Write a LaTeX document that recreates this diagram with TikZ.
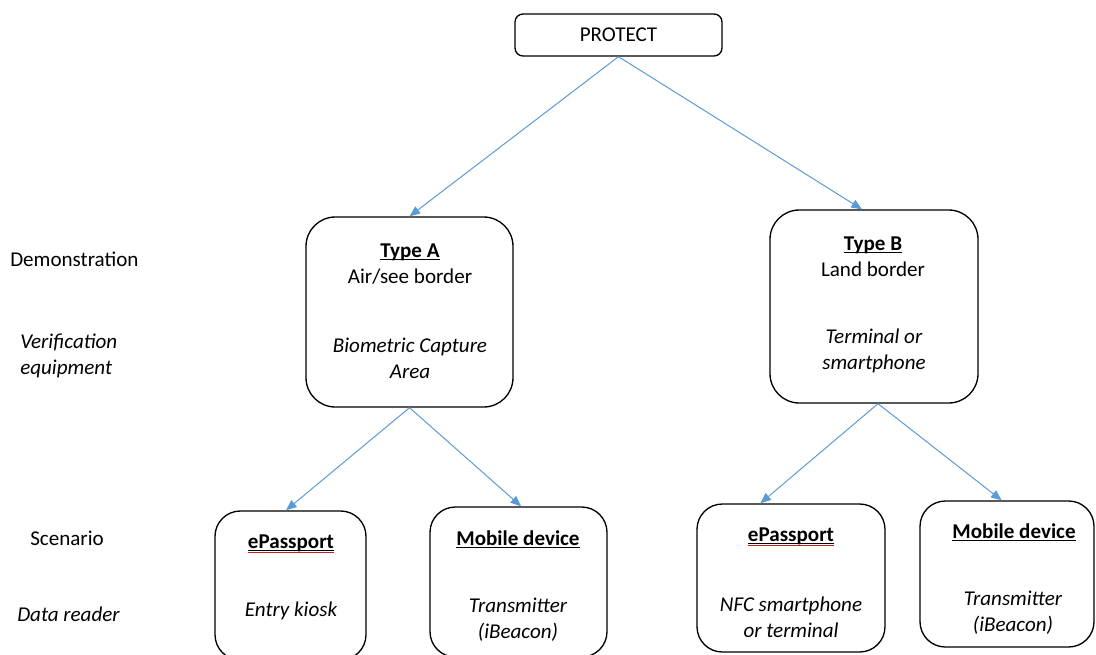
\documentclass[tikz,border=0pt]{standalone}
\usepackage{fontspec}
\setmainfont{Carlito}
\usepackage{tikz}
\usetikzlibrary{arrows.meta}
\tikzset{>={Triangle[length=8pt,width=6.5pt]}}
\definecolor{linkblue}{RGB}{91,155,213}
\definecolor{spellred}{RGB}{200,30,30}
\newcommand{\diagfont}{\fontsize{15.8}{19.5}\selectfont}
\newcommand{\headul}[1]{\setbox0\hbox{\textbf{#1}}\rlap{\rule[-2.4pt]{\wd0}{1pt}}\box0}
\newcommand{\headulsp}[1]{\setbox0\hbox{\textbf{#1}}\rlap{\rule[-2.4pt]{\wd0}{1pt}}\rlap{\color{spellred}\rule[-3.8pt]{\wd0}{0.8pt}}\box0}

\begin{document}
\begin{tikzpicture}[x=0.75pt,y=-0.75pt,font=\diagfont,
		box/.style={draw,line width=1pt,rounded corners=#1,inner sep=0pt},
		txt/.style={inner sep=0pt,align=center},
		note/.style={txt,font=\diagfont\itshape},
		link/.style={->,draw=linkblue,line width=0.75pt}]
	\useasboundingbox (0,0) rectangle (1096,654);

	\node[box=6pt,minimum width=155.25pt,minimum height=31.5pt] (protect) at (618.5,35) {PROTECT};

	\node[box=22pt,minimum width=155.25pt,minimum height=142.5pt] (typeA) at (409.5,312) {};
	\node[box=22pt,minimum width=156pt,minimum height=144.75pt] (typeB) at (874,306.5) {};
	\node[box=19pt,minimum width=113.25pt,minimum height=111.75pt] (epA) at (290.5,585.5) {};
	\node[box=19pt,minimum width=132.75pt,minimum height=112.5pt] (mobA) at (518.5,582) {};
	\node[box=19pt,minimum width=141pt,minimum height=111pt] (epB) at (791,578) {};
	\node[box=19pt,minimum width=130.5pt,minimum height=109.5pt] (mobB) at (1007,574) {};

	% demonstrations
	\node[txt,anchor=base] (typeAhead) at (410,257) {\headul{Type A}};
	\node[txt,anchor=base] (typeAsub) at (410,283) {Air/see border};
	\node[note] (typeAeq) at (410,358) {Biometric Capture\\Area};
	\node[txt,anchor=base] (typeBhead) at (873,250) {\headul{Type B}};
	\node[txt,anchor=base] (typeBsub) at (873,276) {Land border};
	\node[note] (typeBeq) at (874,351) {Terminal or\\smartphone};

	% scenarios
	\node[txt,anchor=base] (epAhead) at (291,548) {\headulsp{ePassport}};
	\node[note,anchor=base] (epAread) at (291,616) {Entry kiosk};
	\node[txt,anchor=base] (mobAhead) at (518,545) {\headul{Mobile device}};
	\node[note] (mobAread) at (518,620) {Transmitter\\(iBeacon)};
	\node[txt,anchor=base] (epBhead) at (791,541) {\headulsp{ePassport}};
	\node[note] (epBread) at (791,617) {NFC smartphone\\or terminal};
	\node[txt,anchor=base] (mobBhead) at (1014,538) {\headul{Mobile device}};
	\node[note] (mobBread) at (1013,613) {Transmitter\\(iBeacon)};

	\node[txt,anchor=base west] (demo) at (10,266) {Demonstration};
	\node[note,anchor=west,align=left] (verif) at (20,356) {Verification\\equipment};
	\node[txt,anchor=base west] (scen) at (30,545) {Scenario};
	\node[note,anchor=base west] (reader) at (17,621) {Data reader};

	\draw[link] (protect.south) -- (typeA.north);
	\draw[link] (protect.south) -- ([xshift=-9pt]typeB.north);
	\draw[link] (typeA.south) -- ([xshift=-3.4pt]epA.north);
	\draw[link] (typeA.south) -- ([xshift=2pt]mobA.north);
	\draw[link] ([xshift=3pt]typeB.south) -- ([xshift=-23pt]epB.north);
	\draw[link] ([xshift=3pt]typeB.south) -- ([xshift=-4pt]mobB.north);
\end{tikzpicture}
\end{document}
